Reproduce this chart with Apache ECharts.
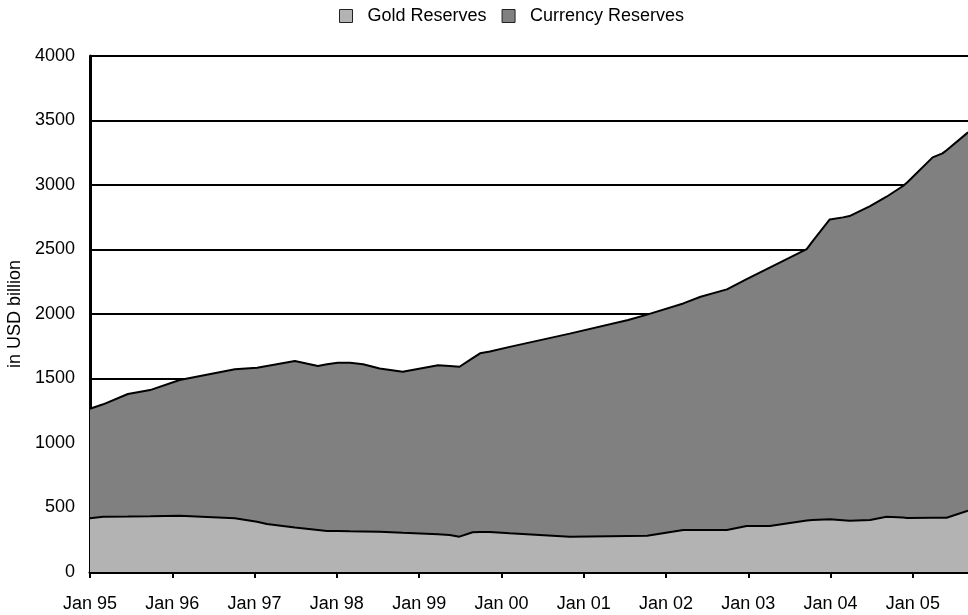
<!DOCTYPE html>
<html>
<head>
<meta charset="utf-8">
<script src="https://cdn.jsdelivr.net/npm/echarts@6/dist/echarts.min.js"></script>
<style>html,body{margin:0;padding:0;background:#fff;}#c{width:968px;height:615px;}</style>
</head>
<body>
<div id="c"></div>
<script>
// decimal years
var dates = [1995.00,1995.16,1995.46,1995.73,1996.09,1996.76,1997.03,1997.15,1997.49,1997.77,1997.88,1998.01,1998.16,1998.32,1998.52,1998.80,1999.23,1999.37,1999.49,1999.65,1999.74,1999.86,2000.10,2000.83,2001.54,2001.77,2002.21,2002.42,2002.74,2002.98,2003.26,2003.71,2003.78,2003.99,2004.15,2004.23,2004.48,2004.68,2004.88,2004.93,2005.24,2005.36,2005.41,2005.67];
// gold reserves (bottom band), USD bn
var goldReserves = [416,429,430,432,436,417,390,372,345,326,318,317,315,314,312,304,292,287,274,308,310,310,300,274,280,281,326,326,326,357,357,400,403,408,402,398,403,429,422,419,420,420,421,475];
// gold + currency reserves (top of the stack), USD bn
var totalReserves = [1265,1300,1380,1410,1488,1571,1583,1597,1635,1597,1610,1622,1622,1610,1578,1552,1602,1597,1591,1658,1695,1710,1745,1848,1953,1995,2082,2134,2191,2270,2360,2503,2563,2733,2749,2759,2836,2909,2992,3020,3214,3245,3270,3408];
var yTicks = [0,500,1000,1500,2000,2500,3000,3500,4000];
var seriesNames = ['Gold Reserves','Currency Reserves'];

var font = 'Liberation Sans, Arial, Helvetica, sans-serif';
var chart = echarts.init(document.getElementById('c'), null, {renderer:'canvas'});
function pairs(vals){ return vals.map(function(v,i){return [dates[i], v];}); }
chart.setOption({
  animation: false,
  backgroundColor: '#fff',
  textStyle: {fontFamily: font},
  legend: {
    top: 7, left: 339, padding: 0,
    icon: 'rect', itemWidth: 13, itemHeight: 13, itemGap: 15,
    itemStyle: {borderColor: '#222', borderWidth: 1},
    textStyle: {fontSize: 18, color: '#000', fontFamily: font, padding: [0,0,0,10]},
    data: seriesNames
  },
  grid: {left: 90, right: 0, top: 56, bottom: 43, containLabel: false, outerBoundsMode: 'none'},
  xAxis: {
    type: 'value', min: 1995, max: 2005.67, interval: 1,
    axisLine: {show: true, onZero: false, lineStyle: {color: '#000', width: 3}},
    axisTick: {show: true, length: 6, lineStyle: {color: '#000', width: 2}},
    axisLabel: {margin: 23, fontSize: 18, color: '#000', fontFamily: font, showMaxLabel: false,
      formatter: function(v){ return Math.abs(v - Math.round(v)) < 1e-6 ? 'Jan ' + String(Math.round(v)).slice(2) : ''; }},
    splitLine: {show: false}
  },
  yAxis: {
    type: 'value', min: yTicks[0], max: yTicks[yTicks.length-1], interval: 500,
    name: 'in USD billion', nameLocation: 'middle', nameGap: 66, nameRotate: 90,
    nameTextStyle: {fontSize: 18, color: '#000', fontFamily: font},
    axisLine: {show: true, lineStyle: {color: '#000', width: 3}},
    axisTick: {show: false},
    axisLabel: {margin: 15, fontSize: 18, color: '#000', fontFamily: font,
      formatter: function(v){ return String(v); }},
    splitLine: {show: true, lineStyle: {color: '#000', width: 2}}
  },
  series: [
    {name: seriesNames[0], type: 'line', symbol: 'none', z: 3,
     data: pairs(goldReserves),
     itemStyle: {color: '#b3b3b3'},
     lineStyle: {color: '#000', width: 2},
     areaStyle: {color: '#b3b3b3', opacity: 1, origin: 'start'}},
    {name: seriesNames[1], type: 'line', symbol: 'none', z: 2,
     data: pairs(totalReserves),
     itemStyle: {color: '#808080'},
     lineStyle: {color: '#000', width: 2},
     areaStyle: {color: '#808080', opacity: 1, origin: 'start'}}
  ]
});
</script>
</body>
</html>
